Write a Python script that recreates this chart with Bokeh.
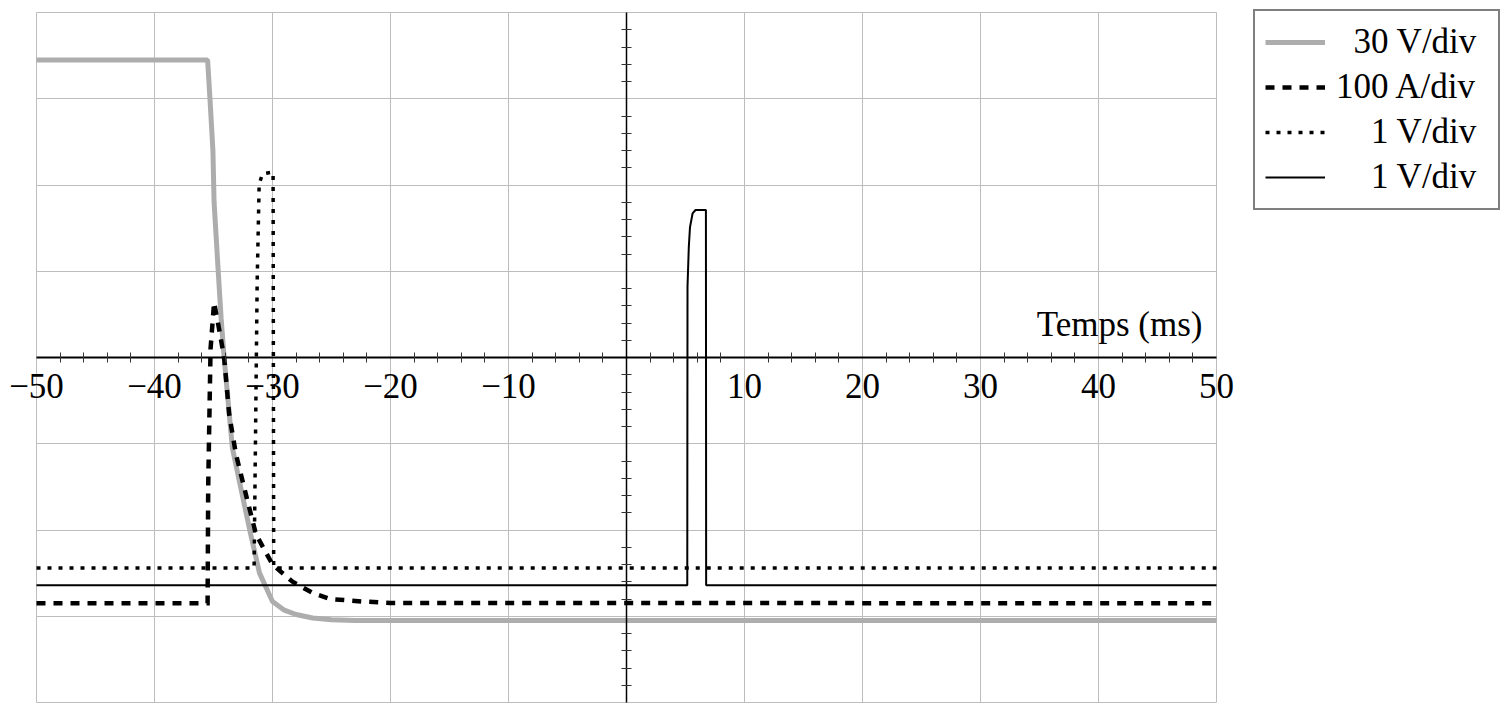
from bokeh.plotting import figure
from bokeh.models import (LinearAxis, Grid, FixedTicker, Legend, LegendItem,
                          Label, Range1d)
from bokeh.embed import file_html
from bokeh.resources import INLINE

# ---------------- data (time in ms, amplitude in divisions) ----------------
x_major = [-50, -40, -30, -20, -10, 0, 10, 20, 30, 40, 50]
x_tick_labels = ["−50", "−40", "−30", "−20", "−10", "", "10", "20", "30", "40", "50"]
x_minor = [-48, -46, -44, -42, -38, -36, -34, -32, -28, -26, -24, -22,
           -18, -16, -14, -12, -8, -6, -4, -2, 2, 4, 6, 8, 12, 14, 16, 18,
           22, 24, 26, 28, 32, 34, 36, 38, 42, 44, 46, 48]
y_major = [-4, -3, -2, -1, 0, 1, 2, 3, 4]
y_minor = [-3.8, -3.6, -3.4, -3.2, -2.8, -2.6, -2.4, -2.2, -1.8, -1.6, -1.4, -1.2,
           -0.8, -0.6, -0.4, -0.2, 0.2, 0.4, 0.6, 0.8, 1.2, 1.4, 1.6, 1.8,
           2.2, 2.4, 2.6, 2.8, 3.2, 3.4, 3.6, 3.8]

# 30 V/div trace (grey)
gray_t = [-50, -35.5, -35.3, -35.05, -34.95, -34.6, -34.35, -34.1, -33.7, -33.4,
          -32.55, -31.85, -31.1, -30.0, -29.0, -28.0, -26.6, -25.0, -23.0, 50]
gray_v = [3.45, 3.45, 3.0, 2.4, 1.8, 1.0, 0.45, 0.0, -0.6, -1.05,
          -1.6, -2.05, -2.5, -2.83, -2.93, -2.98, -3.02, -3.04, -3.05, -3.05]

# 100 A/div trace (dashed)
dashed_t = [-50, -35.5, -35.45, -35.25, -34.95, -34.5, -34.1, -33.67, -33.1,
            -32.25, -31.4, -30.0, -28.3, -26.6, -25.1, -22.3, -20.0, 50]
dashed_v = [-2.85, -2.85, -1.5, 0.1, 0.64, 0.31, 0.0, -0.66, -1.12,
            -1.59, -2.05, -2.40, -2.60, -2.73, -2.80, -2.83, -2.845, -2.85]

# 1 V/div trace (dotted)
dotted_t = [-50, -31.56, -31.45, -31.3, -31.13, -30.85, -29.95, -29.9, 50]
dotted_v = [-2.44, -2.44, -1.05, 0.87, 2.01, 2.13, 2.15, -2.44, -2.44]

# 1 V/div trace (solid)
solid_t = [-50, 5.15, 5.17, 5.28, 5.38, 5.6, 5.85, 6.73, 6.75, 50]
solid_v = [-2.64, -2.64, 0.82, 1.28, 1.51, 1.67, 1.71, 1.71, -2.64, -2.64]

legend_labels = ["\u200730 V/div", "100 A/div", "\u2007\u20071 V/div", "\u2007\u20071 V/div"]
axis_title = "Temps (ms)"

FONT = "Liberation Serif"
FSIZE = "35px"
GRID = "#bdbdbd"

W, H = 1510, 710
PX_PER_MS = 11.8
PX_PER_DIV = 86.25
LEFT, TOP = 36, 12
x0 = -50 - LEFT / PX_PER_MS
y1 = 4 + TOP / PX_PER_DIV

p = figure(width=W, height=H,
           x_range=Range1d(x0, x0 + W / PX_PER_MS),
           y_range=Range1d(y1 - H / PX_PER_DIV, y1),
           x_axis_type=None, y_axis_type=None,
           output_backend="svg", toolbar_location=None,
           min_border=0, min_border_left=0, min_border_right=0,
           min_border_top=0, min_border_bottom=0,
           background_fill_color="white", border_fill_color="white",
           outline_line_color=None)

xticker = FixedTicker(ticks=x_major, minor_ticks=x_minor)
yticker = FixedTicker(ticks=y_major, minor_ticks=y_minor)

p.add_layout(Grid(dimension=0, ticker=xticker, bounds=(-50, 50), cross_bounds=(-4, 4),
                  grid_line_color=GRID, grid_line_width=1))
p.add_layout(Grid(dimension=1, ticker=yticker, bounds=(-4, 4), cross_bounds=(-50, 50),
                  grid_line_color=GRID, grid_line_width=1))

r_gray = p.line(gray_t, gray_v, line_color="#adadad", line_width=5)
r_dash = p.line(dashed_t, dashed_v, line_color="black", line_width=4.5,
                line_dash="9 8", line_join="miter")
r_dot = p.line(dotted_t, dotted_v, line_color="black", line_width=3.5,
               line_dash="4 7")
r_solid = p.line(solid_t, solid_v, line_color="black", line_width=2)

xaxis = LinearAxis(ticker=xticker, fixed_location=0, bounds=(-50, 50),
                   major_label_overrides={v: s for v, s in zip(x_major, x_tick_labels)},
                   major_label_text_font=FONT, major_label_text_font_size=FSIZE,
                   major_label_text_color="black", major_label_standoff=11,
                   major_tick_line_color=None, major_tick_in=0, major_tick_out=0,
                   minor_tick_in=5, minor_tick_out=5,
                   minor_tick_line_color="#333333", minor_tick_line_width=1,
                   axis_line_color="black", axis_line_width=2)
p.add_layout(xaxis, "below")

yaxis = LinearAxis(ticker=yticker, fixed_location=0, bounds=(-4, 4),
                   major_label_overrides={v: "" for v in y_major},
                   major_label_text_font_size="0px",
                   major_tick_line_color=None, major_tick_in=0, major_tick_out=0,
                   minor_tick_in=5, minor_tick_out=5,
                   minor_tick_line_color="#333333", minor_tick_line_width=1,
                   axis_line_color="black", axis_line_width=1.5)
p.add_layout(yaxis, "left")

p.add_layout(Label(x=50, y=0, x_units="data", y_units="data", text=axis_title,
                   x_offset=-14, y_offset=33, text_align="right",
                   text_baseline="alphabetic", text_font=FONT,
                   text_font_size=FSIZE, text_color="black"))

legend = Legend(items=[LegendItem(label=legend_labels[0], renderers=[r_gray]),
                       LegendItem(label=legend_labels[1], renderers=[r_dash]),
                       LegendItem(label=legend_labels[2], renderers=[r_dot]),
                       LegendItem(label=legend_labels[3], renderers=[r_solid])],
                location=(1253, H - 13 - 197),
                label_text_font=FONT, label_text_font_size=FSIZE,
                label_text_color="black",
                glyph_width=60, glyph_height=42, label_height=42,
                label_width=152, label_standoff=11, spacing=3, padding=10,
                border_line_color="black", border_line_width=2,
                background_fill_color="white", background_fill_alpha=1.0,
                margin=0)
p.add_layout(legend, "center")

open("out.html", "w").write(file_html(p, INLINE))
